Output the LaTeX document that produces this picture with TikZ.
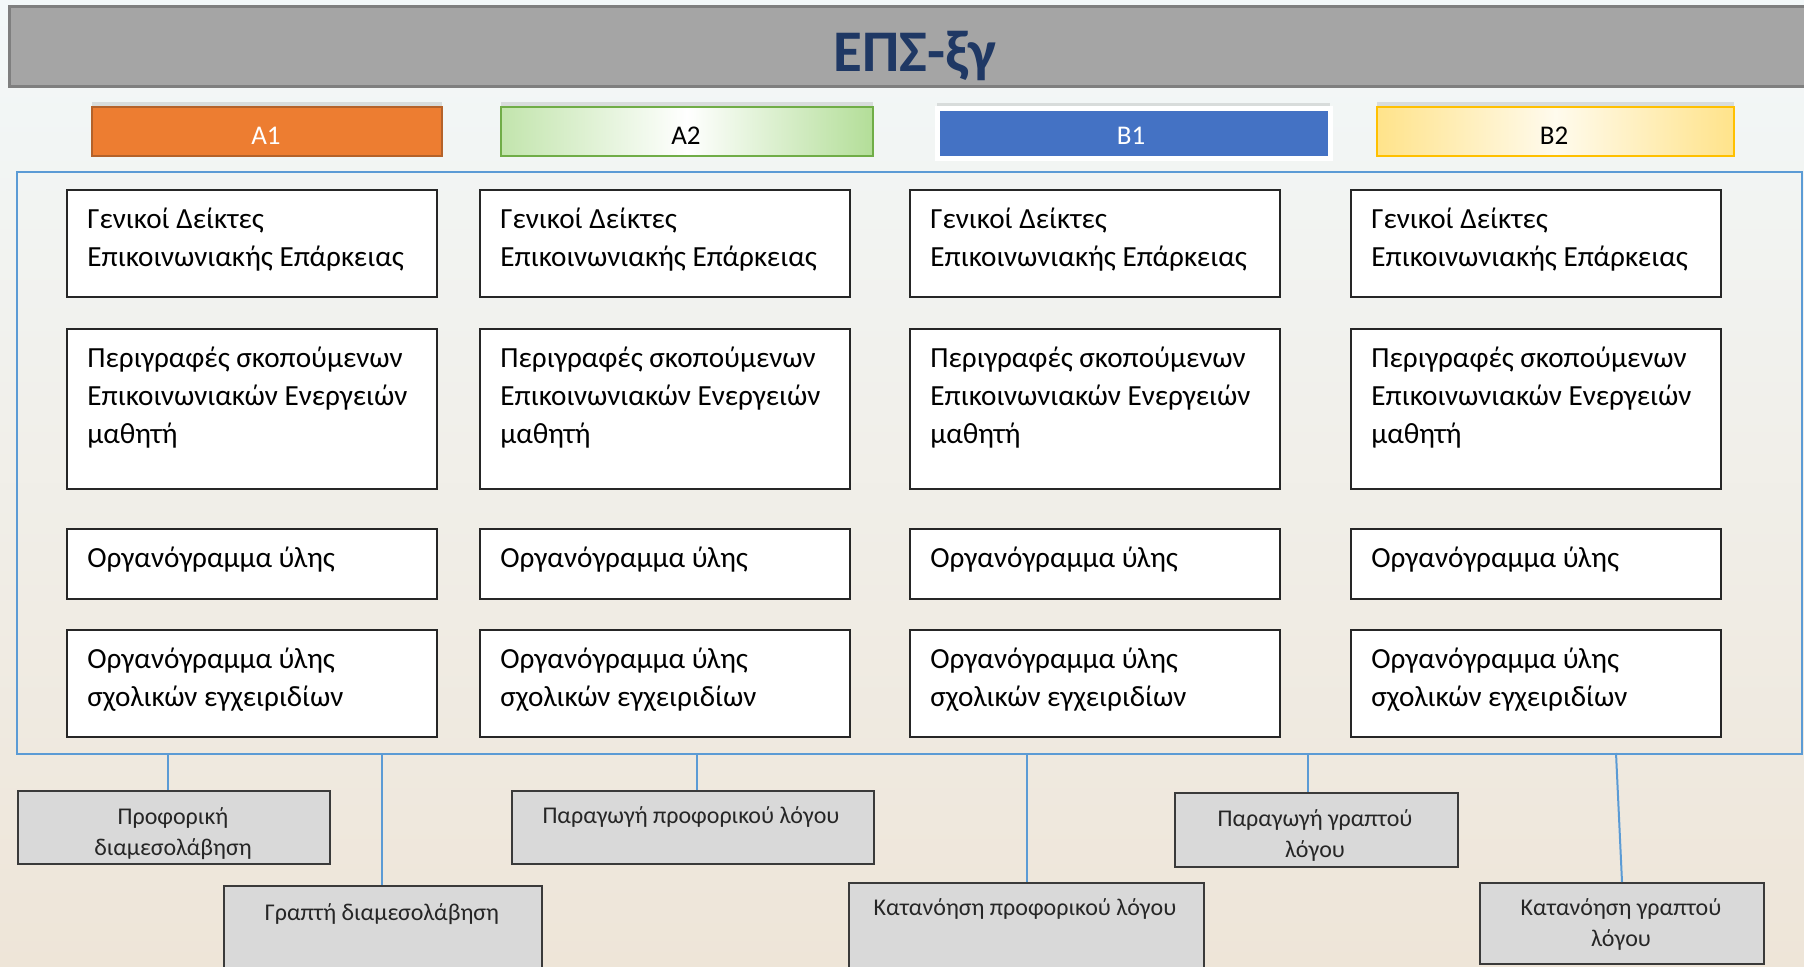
\documentclass[tikz,border=0pt]{standalone}
\usepackage{fontspec}
\setmainfont{Carlito}
\usetikzlibrary{shadows}

\definecolor{titlegray}{HTML}{A5A5A5}
\definecolor{titleedge}{HTML}{7F7F7F}
\definecolor{titleblue}{HTML}{1F3864}
\definecolor{aorange}{HTML}{ED7D31}
\definecolor{aorangeedge}{HTML}{B4622A}
\definecolor{agreen}{HTML}{B3DE98}
\definecolor{agreenedge}{HTML}{70AD47}
\definecolor{bblue}{HTML}{4472C4}
\definecolor{byellow}{HTML}{FFE38A}
\definecolor{byellowedge}{HTML}{FFC000}
\definecolor{frameblue}{HTML}{5B9BD5}
\definecolor{skillgray}{HTML}{D9D9D9}
\definecolor{skilledge}{HTML}{3A3A3A}
\definecolor{bgtop}{HTML}{F3F8F9}
\definecolor{bgmid}{HTML}{F1F0E9}
\definecolor{bgbot}{HTML}{EEE5D8}

\newcommand{\celllines}[1]{\parbox[t]{170pt}{\raggedright #1}}
\newcommand{\skilllines}[1]{\parbox[t]{200pt}{\centering #1}}

\tikzset{
  cell/.style={draw=black!85, fill=white, line width=0.75pt, inner sep=0pt,
    anchor=north west, minimum width=185pt},
  celltext/.style={anchor=base west, inner sep=0pt, font=\fontsize{14.6}{19}\selectfont},
  level/.style={inner sep=0pt, anchor=north west, minimum height=24.5pt, line width=1pt,
    drop shadow={shadow xshift=0pt, shadow yshift=2.5pt, opacity=0.22}},
  leveltext/.style={anchor=base, inner sep=0pt, font=\fontsize{13.5}{16}\selectfont},
  skill/.style={draw=skilledge, fill=skillgray, line width=1pt, inner sep=0pt, anchor=north west},
  skilltext/.style={anchor=base, inner sep=0pt, font=\fontsize{12}{15.5}\selectfont, text=black!85},
  bus/.style={draw=frameblue, line width=1pt}
}

\begin{document}
\begin{tikzpicture}[x=0.5pt,y=-0.5pt]
  \clip (0,0) rectangle (1804,966);
  % fond
  \shade[top color=bgtop, middle color=bgmid, bottom color=bgbot] (0,0) rectangle (1804,966);

  % titre
  \node[draw=titleedge, fill=titlegray, line width=1.5pt, inner sep=0pt, anchor=north west,
    minimum width=902pt, minimum height=40pt] (title) at (8,5) {};
  \node[anchor=base, inner sep=0pt, text=titleblue,
    font=\fontsize{29.5}{34}\selectfont\bfseries] (titletext) at (915,71) {ΕΠΣ-ξγ};

  % niveaux
  \node[level, draw=aorangeedge, fill=aorange, minimum width=175pt] (a1) at (91,106) {};
  \node[level, draw=agreenedge, left color=agreen!80, right color=agreen, middle color=white,
    minimum width=186pt] (a2) at (500,106) {};
  \node[level, draw=white, fill=bblue, line width=2.5pt, minimum width=196.5pt,
    minimum height=25pt] (b1) at (934.5,105.5) {};
  \node[level, draw=byellowedge, left color=byellow, right color=byellow, middle color=byellow!15,
    minimum width=178.5pt] (b2) at (1376,106) {};
  \node[leveltext, text=white] (a1text) at (266,144) {A1};
  \node[leveltext] (a2text) at (686,144) {A2};
  \node[leveltext, text=white] (b1text) at (1131,144) {B1};
  \node[leveltext] (b2text) at (1554,144) {B2};

  % cadre
  \node[bus, anchor=north west, inner sep=0pt, minimum width=892.5pt, minimum height=291pt]
    (frame) at (16,171) {};

  % cases
  \foreach \x [count=\c] in {66,479,909,1350}{
    \foreach \y/\h/\t [count=\r] in {
        189/107/{Γενικοί Δείκτες\\Επικοινωνιακής Επάρκειας},
        328/160/{Περιγραφές σκοπούμενων\\Επικοινωνιακών Ενεργειών\\μαθητή},
        528/70/{Οργανόγραμμα ύλης},
        629/107/{Οργανόγραμμα ύλης\\σχολικών εγχειριδίων}}{
      \node[cell, minimum height=\h*0.5pt] (c\c r\r) at (\x,\y) {};
      \node[celltext] (c\c r\r text) at ([shift={(21,39)}]c\c r\r.north west) {\celllines{\t}};
    }
  }

  % domaines
  \node[skill, minimum width=156pt, minimum height=36.5pt] (s1) at (17,790) {};
  \node[skill, minimum width=159pt, minimum height=50pt] (s2) at (223,885) {};
  \node[skill, minimum width=181pt, minimum height=36.5pt] (s3) at (511,790) {};
  \node[skill, minimum width=177.5pt, minimum height=50pt] (s4) at (848,882) {};
  \node[skill, minimum width=141.5pt, minimum height=37pt] (s5) at (1174,792) {};
  \node[skill, minimum width=142pt, minimum height=40.5pt] (s6) at (1479,882) {};
  \node[skilltext] (s1text) at (173,824) {\skilllines{Προφορική\\διαμεσολάβηση}};
  \node[skilltext] (s2text) at (382,920) {\skilllines{Γραπτή διαμεσολάβηση}};
  \node[skilltext] (s3text) at (691,823) {\skilllines{Παραγωγή προφορικού λόγου}};
  \node[skilltext] (s4text) at (1025,915) {\skilllines{Κατανόηση προφορικού λόγου}};
  \node[skilltext] (s5text) at (1315,826) {\skilllines{Παραγωγή γραπτού\\λόγου}};
  \node[skilltext] (s6text) at (1621,915) {\skilllines{Κατανόηση γραπτού\\λόγου}};

  % liaisons
  \foreach \n/\x in {1/168,2/382,3/697,4/1027,5/1308}{
    \coordinate (t\n) at (\x,753);
    \draw[bus] (t\n) -- (t\n |- s\n.north);
  }
  \coordinate (t6) at (1616,753);
  \draw[bus] (t6) -- (s6.north);
\end{tikzpicture}
\end{document}
